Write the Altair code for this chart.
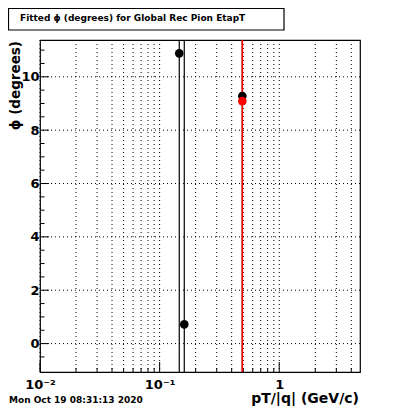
import altair as alt
import pandas as pd

# data
pt_black = [0.1459, 0.1607, 0.491]
phi_black = [10.88, 0.72, 9.28]
pt_red = [0.491]
phi_red = [9.09]

x_major = [0.01, 0.1, 1]
x_minor = [0.02, 0.03, 0.04, 0.05, 0.06, 0.07, 0.08, 0.09,
           0.2, 0.3, 0.4, 0.5, 0.6, 0.7, 0.8, 0.9, 2, 3, 4]
y_major = [0, 2, 4, 6, 8, 10]
y_minor = [-0.5, 0.5, 1, 1.5, 2.5, 3, 3.5, 4.5, 5, 5.5, 6.5, 7, 7.5,
           8.5, 9, 9.5, 10.5, 11]

title_text = "Fitted \u03d5 (degrees) for Global Rec Pion EtapT"
date_text = "Mon Oct 19 08:31:13 2020"
x_title = "pT/|q| (GeV/c)"
y_title = "\u03d5 (degrees)"

W, H = 320, 332
XDOM = [0.01, 4.73]
YDOM = [-1.065, 11.38]
FONT = "DejaVu Sans"

xs = alt.Scale(type="log", domain=XDOM, nice=False, zero=False)
ys = alt.Scale(domain=YDOM, nice=False, zero=False)

black = pd.DataFrame({"pt": pt_black, "phi": phi_black})
red = pd.DataFrame({"pt": pt_red, "phi": phi_red})
xgrid = pd.DataFrame({"v": x_major + x_minor})
ygrid = pd.DataFrame({"v": y_major})
xmaj = pd.DataFrame({"v": x_major})
xmin = pd.DataFrame({"v": x_minor})
ymaj = pd.DataFrame({"v": y_major})
ymin = pd.DataFrame({"v": y_minor})

label_expr = ("datum.value < 0.05 ? '10\u207b\u00b2' : "
              "(datum.value < 0.5 ? '10\u207b\u00b9' : '1')")

base_x_axis = alt.Axis(values=x_major, labelExpr=label_expr, ticks=False,
                       domain=False, grid=False, title=None,
                       labelFont=FONT, labelFontWeight="bold", labelFontSize=13,
                       labelColor="black", labelPadding=6, labelFlush=False)
base_y_axis = alt.Axis(values=y_major, ticks=False, domain=False, grid=False,
                       title=None, labelFont=FONT, labelFontWeight="bold",
                       labelFontSize=13, labelColor="black", labelPadding=1)

vgrid = alt.Chart(xgrid).mark_rule(color="black", strokeWidth=1,
                                   strokeDash=[1, 3]).encode(
    x=alt.X("v:Q", scale=xs, axis=base_x_axis))
hgrid = alt.Chart(ygrid).mark_rule(color="black", strokeWidth=1,
                                   strokeDash=[1, 3]).encode(
    y=alt.Y("v:Q", scale=ys, axis=base_y_axis))

xt_major = alt.Chart(xmaj).mark_rule(color="black").encode(
    x=alt.X("v:Q", scale=xs), y=alt.value(H), y2=alt.value(H - 10))
xt_minor = alt.Chart(xmin).mark_rule(color="black").encode(
    x=alt.X("v:Q", scale=xs), y=alt.value(H), y2=alt.value(H - 4))
yt_major = alt.Chart(ymaj).mark_rule(color="black").encode(
    y=alt.Y("v:Q", scale=ys), x=alt.value(0), x2=alt.value(9))
yt_minor = alt.Chart(ymin).mark_rule(color="black").encode(
    y=alt.Y("v:Q", scale=ys), x=alt.value(0), x2=alt.value(4.5))

err_black = alt.Chart(black).mark_rule(color="black", strokeWidth=1.2).encode(
    x=alt.X("pt:Q", scale=xs), y=alt.value(0), y2=alt.value(H))
err_red = alt.Chart(red).mark_rule(color="#ff0000", strokeWidth=1.6).encode(
    x=alt.X("pt:Q", scale=xs), y=alt.value(0), y2=alt.value(H))

pts_black = alt.Chart(black).mark_point(filled=True, shape="circle", size=75,
                                        color="black", opacity=1).encode(
    x=alt.X("pt:Q", scale=xs), y=alt.Y("phi:Q", scale=ys))
pts_red = alt.Chart(red).mark_point(filled=True, shape="circle", size=75,
                                    color="#ff0000", opacity=1).encode(
    x=alt.X("pt:Q", scale=xs), y=alt.Y("phi:Q", scale=ys))

ann = pd.DataFrame({"t": [0]})
title_box = alt.Chart(ann).mark_rect(fill="white", stroke="black",
                                     strokeWidth=1.2).encode(
    x=alt.value(-31.5), x2=alt.value(244), y=alt.value(-31.5), y2=alt.value(-10))
title_mark = alt.Chart(ann).mark_text(text=title_text, font=FONT,
                                      fontWeight="bold", fontSize=9,
                                      align="left", baseline="middle",
                                      color="black").encode(
    x=alt.value(-20), y=alt.value(-22))
date_mark = alt.Chart(ann).mark_text(text=date_text, font=FONT,
                                     fontWeight="bold", fontSize=9,
                                     align="left", baseline="alphabetic",
                                     color="black").encode(
    x=alt.value(-31), y=alt.value(H + 31))
xtitle_mark = alt.Chart(ann).mark_text(text=x_title, font=FONT,
                                       fontWeight="bold", fontSize=14,
                                       align="right", baseline="alphabetic",
                                       color="black").encode(
    x=alt.value(319), y=alt.value(H + 31))
ytitle_mark = alt.Chart(ann).mark_text(text=y_title, font=FONT,
                                       fontWeight="bold", fontSize=13.5,
                                       angle=270, align="right",
                                       baseline="alphabetic",
                                       color="black").encode(
    x=alt.value(-20), y=alt.value(1))

chart = alt.layer(
    vgrid, hgrid, xt_major, xt_minor, yt_major, yt_minor,
    err_black, err_red, pts_black, pts_red,
    title_box, title_mark, date_mark, xtitle_mark, ytitle_mark,
).properties(
    width=W, height=H,
    autosize=alt.AutoSizeParams(type="none"),
    padding={"left": 32, "top": 32, "right": 32, "bottom": 34},
    background="white",
).configure_view(stroke="black", strokeWidth=1.2)

chart.save("out.html", embed_options={"renderer": "svg", "actions": False})
